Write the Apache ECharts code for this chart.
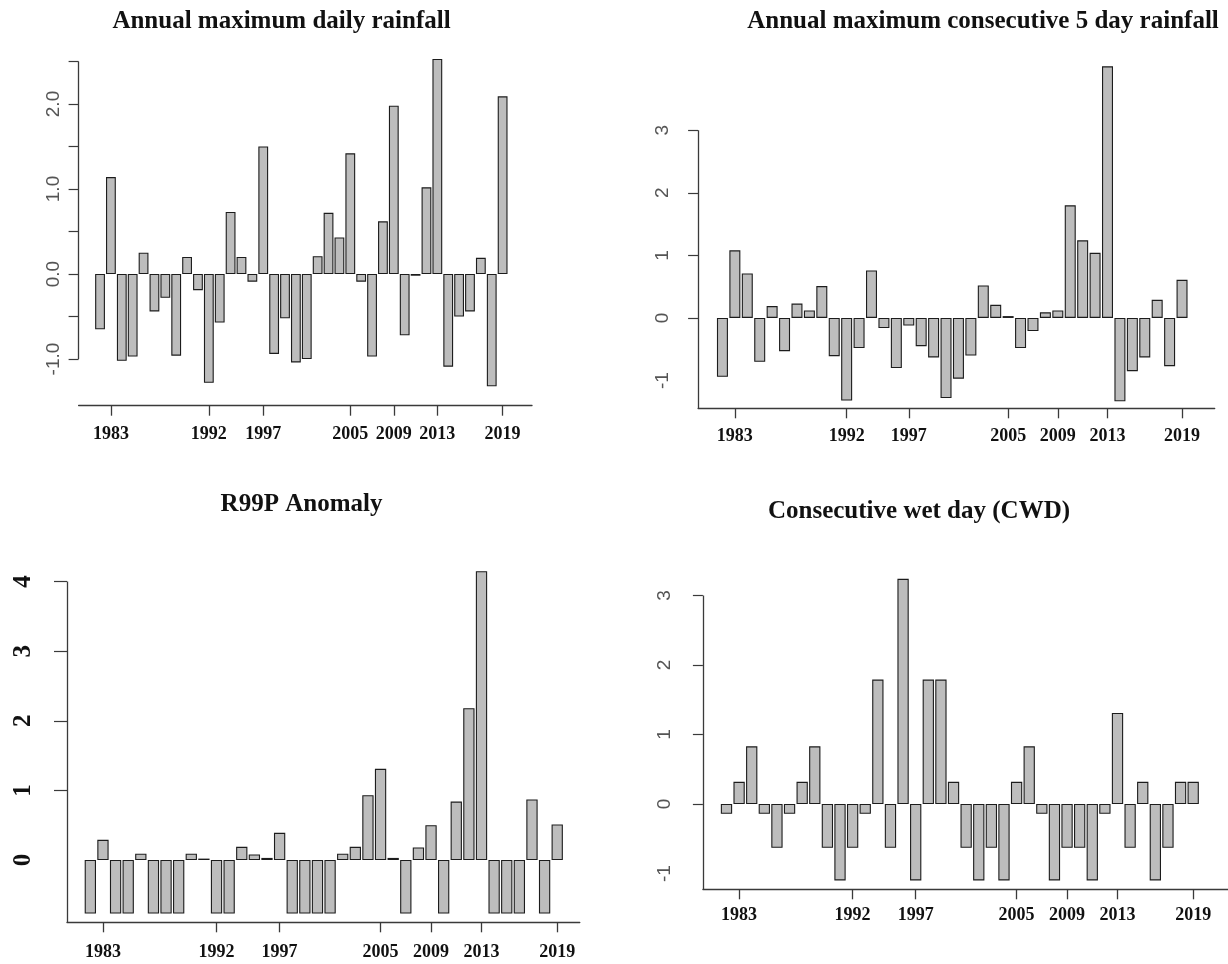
<!DOCTYPE html>
<html>
<head>
<meta charset="utf-8">
<script src="https://cdn.jsdelivr.net/npm/echarts@6/dist/echarts.min.js"></script>
<style>
html,body{margin:0;padding:0;background:#ffffff;}
#chart{width:1228px;height:964px;}
</style>
</head>
<body>
<div id="chart"></div>
<script>
// ---------------- data ----------------
const years = [1982,1983,1984,1985,1986,1987,1988,1989,1990,1991,1992,1993,1994,1995,1996,1997,1998,1999,2000,
               2001,2002,2003,2004,2005,2006,2007,2008,2009,2010,2011,2012,2013,2014,2015,2016,2017,2018,2019];

const rx1day = [-0.65, 1.14, -1.02, -0.97, 0.25, -0.44, -0.28, -0.96, 0.20, -0.19, -1.28, -0.57, 0.73, 0.20, -0.09, 1.50,
                -0.94, -0.52, -1.04, -1.00, 0.21, 0.72, 0.43, 1.42, -0.09, -0.97, 0.62, 1.98, -0.72, -0.02, 1.02, 2.53,
                -1.09, -0.50, -0.44, 0.19, -1.32, 2.09];

const rx5day = [-0.94, 1.08, 0.71, -0.70, 0.19, -0.53, 0.23, 0.12, 0.51, -0.61, -1.32, -0.48, 0.76, -0.16, -0.80, -0.12,
                -0.45, -0.63, -1.28, -0.97, -0.60, 0.52, 0.21, 0.03, -0.48, -0.21, 0.09, 0.12, 1.80, 1.24, 1.04, 4.02,
                -1.33, -0.85, -0.63, 0.29, -0.77, 0.61];

const r99p = [-0.77, 0.29, -0.77, -0.77, 0.09, -0.77, -0.77, -0.77, 0.09, 0.02, -0.77, -0.77, 0.19, 0.08, 0.03, 0.39,
              -0.77, -0.77, -0.77, -0.77, 0.09, 0.19, 0.93, 1.31, 0.03, -0.77, 0.18, 0.50, -0.77, 0.84, 2.18, 4.15,
              -0.77, -0.77, -0.77, 0.87, -0.77, 0.51];

const cwd = [-0.14, 0.32, 0.83, -0.14, -0.63, -0.14, 0.32, 0.83, -0.63, -1.10, -0.63, -0.14, 1.79, -0.63, 3.24, -1.10,
             1.79, 1.79, 0.32, -0.63, -1.10, -0.63, -1.10, 0.32, 0.83, -0.14, -1.10, -0.63, -0.63, -1.10, -0.14, 1.31,
             -0.63, 0.32, -1.10, -0.63, 0.32, 0.32];

const titles = ['Annual maximum daily rainfall', 'Annual maximum consecutive 5 day rainfall',
                'R99P Anomaly', 'Consecutive wet day (CWD)'];

const xTickYears = [1983, 1992, 1997, 2005, 2009, 2013, 2019];

const yTicks1 = [-1, -0.5, 0, 0.5, 1, 1.5, 2, 2.5];
const yLabels1 = [-1, 0, 1, 2];
const yTicks2 = [0, 1, 2, 3];
const yLabels2 = [-1, 0, 1, 2, 3];
const yTicks3 = [1, 2, 3, 4];
const yLabels3 = [0, 1, 2, 3, 4];
const yTicks4 = [0, 1, 2, 3];
const yLabels4 = [-1, 0, 1, 2, 3];

// ---------------- layout / style ----------------
const series = [rx1day, rx5day, r99p, cwd];
const yTicks = [yTicks1, yTicks2, yTicks3, yTicks4];
const yLabels = [yLabels1, yLabels2, yLabels3, yLabels4];

const layout = [
  {grid:{left:78.6, top:53,    width:453.4, height:352.7}, x:[1980.03, 2021.7],  y:[-1.549, 2.6], bw:9.8,
   lineTop:2.5, lineBottom:-1, yMargin:15, xMargin:20, yFont:'sans', title:{x:281.5, top:9}, dec:1},
  {grid:{left:698.1, top:61.3,  width:516.6, height:347},   x:[1980.04, 2021.63], y:[-1.443, 4.1], bw:11.0,
   lineTop:3, lineBottom:null, yMargin:26, xMargin:19.5, yFont:'sans', title:{x:983, top:9}, dec:0},
  {grid:{left:67,    top:560.7, width:512.8, height:361.6}, x:[1980.15, 2020.79], y:[-0.895, 4.3], bw:11.3,
   lineTop:4, lineBottom:null, yMargin:31, xMargin:21.5, yFont:'serif', title:{x:301.5, top:492}, dec:0},
  {grid:{left:702.9, top:567.7, width:527.1, height:321.6}, x:[1980.13, 2021.76], y:[-1.227, 3.4], bw:11.3,
   lineTop:3, lineBottom:null, yMargin:29, xMargin:17, yFont:'sans', title:{x:919, top:499}, dec:0}
];

const axisColor = '#3a3a3a';

const option = {
  animation: false,
  backgroundColor: '#ffffff',
  title: [], grid: [], xAxis: [], yAxis: [], series: []
};

layout.forEach((L, i) => {
  option.title.push({
    text: titles[i], left: L.title.x, top: L.title.top, textAlign: 'center', padding: 0,
    textStyle: {fontFamily: 'Liberation Serif', fontWeight: 'bold', fontSize: 25, color: '#111'}
  });
  option.grid.push(Object.assign({containLabel: false}, L.grid));
  option.xAxis.push({
    type: 'value', gridIndex: i, min: L.x[0], max: L.x[1],
    axisLine: {show: true, onZero: false, lineStyle: {color: axisColor, width: 1.3}},
    axisTick: {show: true, customValues: xTickYears, length: 10, inside: false,
               lineStyle: {color: axisColor, width: 1.3}},
    axisLabel: {show: true, customValues: xTickYears, margin: L.xMargin,
                formatter: v => String(Math.round(v)),
                fontFamily: 'Liberation Serif', fontWeight: 'bold', fontSize: 18, color: '#111'},
    splitLine: {show: false}
  });
  const sans = L.yFont === 'sans';
  option.yAxis.push({
    type: 'value', gridIndex: i, min: L.y[0], max: L.y[1],
    axisLine: {show: false},
    axisTick: {show: true, customValues: yTicks[i], length: sans ? 10 : 13,
               lineStyle: {color: axisColor, width: 1.2}},
    axisLabel: {show: true, customValues: yLabels[i], rotate: 90, margin: L.yMargin,
                formatter: v => Number(v).toFixed(L.dec),
                fontFamily: sans ? 'Liberation Sans' : 'Liberation Serif',
                fontWeight: sans ? 'normal' : 'bold',
                fontSize: sans ? 19 : 25,
                color: sans ? '#555555' : '#111'},
    splitLine: {show: false}
  });
  const bottom = (L.lineBottom === null) ? L.y[0] : L.lineBottom;
  option.series.push({
    type: 'bar', xAxisIndex: i, yAxisIndex: i, clip: false,
    barWidth: L.bw,
    data: years.map((yr, k) => [yr, series[i][k]]),
    itemStyle: {color: '#bdbdbd', borderColor: '#1c1c1c', borderWidth: 1.1},
    markLine: {
      silent: true, symbol: ['none', 'none'], label: {show: false}, animation: false,
      lineStyle: {color: axisColor, width: 1.3, type: 'solid'},
      emphasis: {disabled: true},
      data: [[{coord: [L.x[0], L.lineTop]}, {coord: [L.x[0], bottom]}]]
    }
  });
});

const chart = echarts.init(document.getElementById('chart'), null, {renderer: 'canvas'});
chart.setOption(option);
</script>
</body>
</html>
